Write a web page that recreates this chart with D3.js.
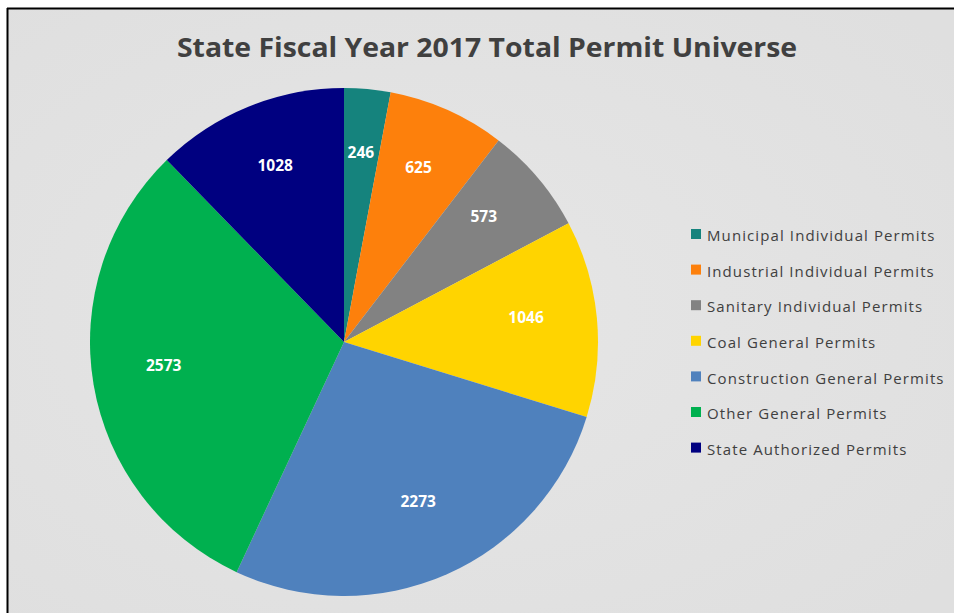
<!DOCTYPE html>
<html>
<head>
<meta charset="utf-8">
<script src="https://cdn.jsdelivr.net/npm/d3@7"></script>
<style>
  html, body { margin: 0; padding: 0; background: #ffffff; }
  svg { display: block; }
</style>
</head>
<body>
<div id="chart"></div>
<script>
// Permit categories and their counts for SFY 2017
const categories = [
  "Municipal Individual Permits",
  "Industrial Individual Permits",
  "Sanitary Individual Permits",
  "Coal General Permits",
  "Construction General Permits",
  "Other General Permits",
  "State Authorized Permits"
];
const permitCounts = [246, 625, 573, 1046, 2273, 2573, 1028];
const sliceColors = ["#15837d", "#fd800c", "#828282", "#ffd400", "#4f81bd", "#00b04f", "#000080"];
const chartTitle = "State Fiscal Year 2017 Total Permit Universe";

const W = 954, H = 613;
const svg = d3.select("#chart").append("svg")
  .attr("width", W).attr("height", H);

// chart area background with a thin frame on top and left
const bgGrad = svg.append("defs").append("radialGradient")
  .attr("id", "bgGrad").attr("cx", "45%").attr("cy", "50%").attr("r", "70%");
bgGrad.append("stop").attr("offset", "0%").attr("stop-color", "#e6e6e6");
bgGrad.append("stop").attr("offset", "100%").attr("stop-color", "#dfdfdf");

svg.append("rect").attr("x", 8).attr("y", 9).attr("width", W - 8).attr("height", H - 9)
  .attr("fill", "url(#bgGrad)");
svg.append("line").attr("x1", 7).attr("x2", W).attr("y1", 8.5).attr("y2", 8.5)
  .attr("stroke", "#000").attr("stroke-width", 2);
svg.append("line").attr("x1", 7.5).attr("x2", 7.5).attr("y1", 8).attr("y2", H)
  .attr("stroke", "#000").attr("stroke-width", 2);

// title
svg.append("text")
  .attr("x", 487).attr("y", 57)
  .attr("text-anchor", "middle")
  .attr("font-family", "'Open Sans', sans-serif")
  .attr("font-weight", "bold")
  .attr("font-size", 26)
  .attr("fill", "#404040")
  .attr("textLength", 620).attr("lengthAdjust", "spacingAndGlyphs")
  .text(chartTitle);

// pie
const cx = 344, cy = 342, R = 254;
const color = d3.scaleOrdinal().domain(categories).range(sliceColors);
const pie = d3.pie().sort(null).value(d => d.value);
const data = categories.map((c, i) => ({ name: c, value: permitCounts[i] }));
const arcs = pie(data);
const arc = d3.arc().innerRadius(0).outerRadius(R);
const labelArc = d3.arc().innerRadius(R * 0.72).outerRadius(R * 0.72);

const g = svg.append("g").attr("transform", `translate(${cx},${cy})`);
g.selectAll("path").data(arcs).join("path")
  .attr("d", arc)
  .attr("fill", d => color(d.data.name));

g.selectAll("text").data(arcs).join("text")
  .attr("transform", d => `translate(${labelArc.centroid(d)})`)
  .attr("text-anchor", "middle")
  .attr("dy", -2)
  .attr("font-family", "'Open Sans', sans-serif")
  .attr("font-weight", "bold")
  .attr("font-size", 15.5)
  .attr("fill", "#ffffff")
  .text(d => d.data.value);

// legend
const legend = svg.append("g").attr("transform", "translate(691,235)");
const rowStep = 35.6;
const rows = legend.selectAll("g").data(categories).join("g")
  .attr("transform", (d, i) => `translate(0,${i * rowStep})`);
rows.append("rect")
  .attr("x", 0).attr("y", -6).attr("width", 10).attr("height", 10)
  .attr("fill", d => color(d));
rows.append("text")
  .attr("x", 16).attr("y", 1).attr("dy", "0.35em")
  .attr("font-family", "'Open Sans', sans-serif")
  .attr("font-size", 15)
  .attr("letter-spacing", 1.1)
  .attr("fill", "#404040")
  .text(d => d);
</script>
</body>
</html>
